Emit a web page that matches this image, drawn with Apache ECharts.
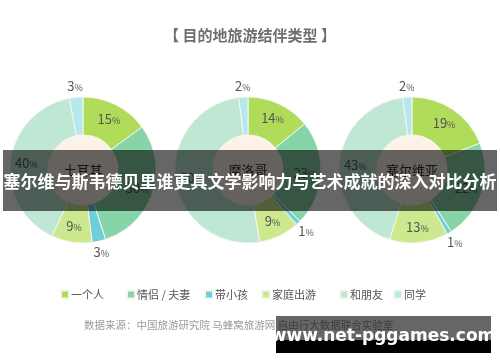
<!DOCTYPE html>
<html><head><meta charset="utf-8">
<script src="https://cdn.jsdelivr.net/npm/echarts@6/dist/echarts.min.js"></script>
<style>html,body{margin:0;padding:0;background:#fff}#c{width:500px;height:362px}</style>
</head><body><div id="c"></div>
<script>
const categories = ['一个人','情侣 / 夫妻','带小孩','家庭出游','和朋友','同学'];
const countries = ['土耳其','摩洛哥','塞尔维亚'];
const turkey = [15,30,3,9,40,3];
const morocco = [14,23,1,9,50,2];
const serbia = [19,22,1,13,43,2];
const colors = ['#b0dc5a','#88d4a9','#6dcfdc','#cde990','#bfe8d4','#b6e6ee'];
const titleText = '【 目的地旅游结伴类型 】';
const sourceText = '数据来源：中国旅游研究院 马蜂窝旅游网 自由行大数据联合实验室';
const bannerText = '塞尔维与斯韦德贝里谁更具文学影响力与艺术成就的深入对比分析';
const watermark = 'www.net-pggames.com';

const FONT = '"Noto Sans CJK SC", sans-serif';
const centers = [[83,170],[248,170],[412,170]];
const allVals = [turkey, morocco, serbia];

const series = [];
allVals.forEach((vals, k) => {
  series.push({
    type:'pie', radius:[35,73], center:centers[k], startAngle:90, clockwise:true,
    avoidLabelOverlap:false, silent:true,
    itemStyle:{borderColor:'#f4f7ee', borderWidth:1},
    labelLine:{show:false, length:11, length2:0},
    data: categories.map((c,i)=>({
      name:c, value:vals[i], itemStyle:{color:colors[i]},
      label: vals[i] <= 3 ? {position:'outside', distanceToLabelLine:0} : {position:'inside'}
    })),
    label:{
      formatter:'{n|{c}}{p|%}',
      rich:{n:{fontSize:13, color:'#555', fontFamily:FONT}, p:{fontSize:9, color:'#555', fontFamily:FONT, padding:[3,0,0,0]}}
    },
    labelLayout: function(p){ return vals[p.dataIndex] <= 3 ? {align:'center', verticalAlign:'middle'} : {}; }
  });
  series.push({
    type:'pie', radius:[0,35], center:centers[k], silent:true,
    data:[{name:countries[k], value:1, itemStyle:{color:'#fdf2e8'}}],
    label:{position:'center', formatter:countries[k], fontSize:13, color:'#333', fontFamily:FONT, padding:[0,0,9,0]},
    labelLine:{show:false}
  });
});

const legendLefts = [55,121,199,256,334,388];
const legends = categories.map((c,i)=>({
  data:[c], left:legendLefts[i], top:284, icon:'rect', itemWidth:8, itemHeight:8, itemGap:0,
  textStyle:{fontSize:11, color:'#555', fontFamily:FONT, padding:[0,0,0,-3]}
}));

const chart = echarts.init(document.getElementById('c'));
chart.setOption({
  animation:false,
  color:colors,
  title:{text:titleText, left:'center', top:23, textStyle:{fontSize:15, fontWeight:'bold', color:'#6e6e6e', fontFamily:FONT}},
  legend:legends,
  series:series,
  graphic:[
    {type:'text', left:84, top:320, z:50, style:{text:sourceText, fontSize:10.5, fill:'#9a9a9a', fontFamily:FONT}},
    {type:'rect', z:100, shape:{x:3,y:150,width:494,height:61}, style:{fill:'rgba(0,0,0,0.6)'}},
    {type:'text', z:101, left:'center', top:173, style:{text:bannerText, fontSize:17, fontWeight:'bold', fill:'#fff', fontFamily:FONT}},
    {type:'rect', z:100, shape:{x:276,y:316,width:215,height:24}, style:{fill:'rgba(0,0,0,0.6)'}},
    {type:'rect', z:100, shape:{x:276,y:340,width:215,height:13}, style:{fill:'#000'}},
    {type:'text', z:101, x:383, y:337, style:{text:watermark, fontSize:17, fontWeight:'bold', fill:'#fff', fontFamily:'"DejaVu Sans", sans-serif', align:'center', verticalAlign:'middle'}}
  ]
});
</script></body></html>
